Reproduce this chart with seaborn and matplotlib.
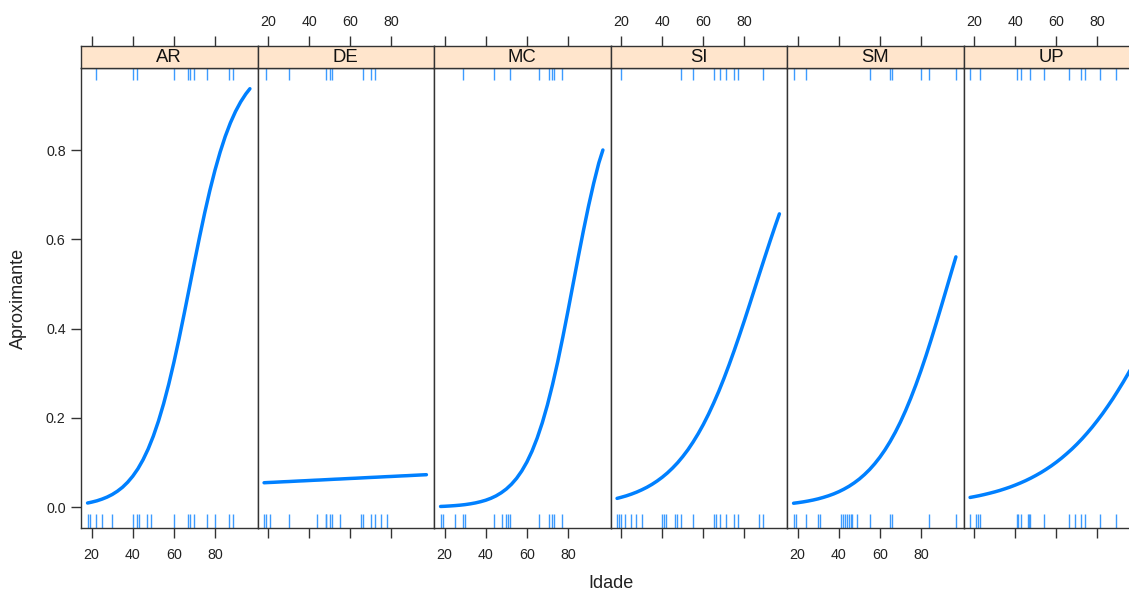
import numpy as np
import pandas as pd
import matplotlib
matplotlib.use("Agg")
import matplotlib.pyplot as plt
import seaborn as sns

# ---------------- data ----------------
panels = ["AR", "DE", "MC", "SI", "SM", "UP"]
idade = [18, 20, 22.5, 25, 27.5, 30, 32.5, 35, 37.5, 40, 42.5, 45, 47.5, 50, 52.5,
         55, 57.5, 60, 62.5, 65, 67.5, 70, 72.5, 75, 77.5, 80, 82.5, 85, 87.5, 90,
         92.5, 95, 97]

prob_AR = [0.0096, 0.0116, 0.0145, 0.0183, 0.0229, 0.0287, 0.0360, 0.0449, 0.0561,
           0.0697, 0.0863, 0.1065, 0.1307, 0.1594, 0.1930, 0.2318, 0.2756, 0.3243,
           0.3771, 0.4331, 0.4907, 0.5486, 0.6052, 0.6593, 0.7093, 0.7547, 0.7951,
           0.8304, 0.8607, 0.8863, 0.9077, 0.9254, 0.9372]
prob_DE = [0.0550, 0.0555, 0.0560, 0.0566, 0.0572, 0.0577, 0.0583, 0.0589, 0.0594,
           0.0600, 0.0606, 0.0611, 0.0617, 0.0623, 0.0629, 0.0634, 0.0640, 0.0646,
           0.0651, 0.0657, 0.0663, 0.0669, 0.0674, 0.0680, 0.0686, 0.0691, 0.0697,
           0.0703, 0.0708, 0.0714, 0.0720, 0.0726, 0.0730]
prob_MC = [0.0019, 0.0023, 0.0030, 0.0038, 0.0048, 0.0061, 0.0078, 0.0099, 0.0126,
           0.0159, 0.0202, 0.0256, 0.0325, 0.0410, 0.0517, 0.0649, 0.0813, 0.1013,
           0.1256, 0.1548, 0.1892, 0.2292, 0.2749, 0.3256, 0.3811, 0.4396, 0.5000,
           0.5603, 0.6189, 0.6743, 0.7251, 0.7708, 0.8000]
prob_SI = [0.0200, 0.0224, 0.0257, 0.0296, 0.0340, 0.0391, 0.0448, 0.0514, 0.0589,
           0.0674, 0.0770, 0.0879, 0.1000, 0.1138, 0.1290, 0.1462, 0.1650, 0.1857,
           0.2085, 0.2333, 0.2598, 0.2884, 0.3189, 0.3509, 0.3843, 0.4187, 0.4541,
           0.4900, 0.5259, 0.5614, 0.5965, 0.6306, 0.6570]
prob_SM = [0.0091, 0.0103, 0.0120, 0.0140, 0.0163, 0.0190, 0.0222, 0.0258, 0.0300,
           0.0349, 0.0406, 0.0471, 0.0547, 0.0633, 0.0733, 0.0846, 0.0976, 0.1122,
           0.1287, 0.1473, 0.1680, 0.1909, 0.2163, 0.2440, 0.2739, 0.3060, 0.3401,
           0.3761, 0.4134, 0.4517, 0.4906, 0.5297, 0.5607]
prob_UP = [0.0221, 0.0238, 0.0261, 0.0287, 0.0315, 0.0345, 0.0378, 0.0415, 0.0454,
           0.0498, 0.0545, 0.0596, 0.0652, 0.0713, 0.0778, 0.0850, 0.0927, 0.1011,
           0.1101, 0.1199, 0.1302, 0.1414, 0.1534, 0.1663, 0.1799, 0.1945, 0.2098,
           0.2262, 0.2432, 0.2614, 0.2801, 0.2998, 0.3160]

rug_top_AR = [22, 40, 42, 60, 67, 68, 70, 76, 87, 89]
rug_top_DE = [19, 30, 48, 50, 51, 66, 70, 72]
rug_top_MC = [29, 44, 52, 66, 71, 72, 73, 77]
rug_top_SI = [20, 49, 55, 65, 68, 71, 75, 77, 89]
rug_top_SM = [18, 24, 55, 65, 66, 80, 84, 97]
rug_top_UP = [18, 23, 41, 43, 47, 54, 66, 72, 74, 81, 89]

rug_bot_AR = [18, 19, 22, 25, 30, 40, 42, 43, 47, 49, 60, 67, 68, 70, 76, 80, 87, 89]
rug_bot_DE = [18, 19, 21, 30, 44, 48, 48.3, 50, 51, 55, 65, 66, 70, 72, 75, 78]
rug_bot_MC = [18, 19, 25, 29, 30, 44, 48, 50, 51, 52, 66, 71, 72, 73, 77]
rug_bot_SI = [18, 19, 20, 22, 25, 27, 30, 40, 41, 42, 46, 47, 49, 55, 65, 66, 68,
              71, 75, 77, 87, 89]
rug_bot_SM = [18, 19, 24, 30, 31, 41, 42, 43, 44, 45, 46, 46.5, 49, 55, 65, 66, 84, 97]
rug_bot_UP = [18, 21, 22, 23, 41, 41.5, 43, 46, 46.5, 47, 54, 66, 69, 72, 74, 81, 89]

x_ticks = [20, 40, 60, 80]
y_ticks = [0.0, 0.2, 0.4, 0.6, 0.8]
y_ticklabels = ["0.0", "0.2", "0.4", "0.6", "0.8"]
x_label = "Idade"
y_label = "Aproximante"

probs = {"AR": prob_AR, "DE": prob_DE, "MC": prob_MC,
         "SI": prob_SI, "SM": prob_SM, "UP": prob_UP}
rug_top = {"AR": rug_top_AR, "DE": rug_top_DE, "MC": rug_top_MC,
           "SI": rug_top_SI, "SM": rug_top_SM, "UP": rug_top_UP}
rug_bot = {"AR": rug_bot_AR, "DE": rug_bot_DE, "MC": rug_bot_MC,
           "SI": rug_bot_SI, "SM": rug_bot_SM, "UP": rug_bot_UP}

df = pd.concat([pd.DataFrame({"Idade": idade, "prob": probs[p], "panel": p})
                for p in panels], ignore_index=True)

# ---------------- styling ----------------
sns.set_theme(style="white")
plt.rcParams["font.family"] = ["Liberation Sans", "DejaVu Sans"]

W, H = 1129, 592
fig = plt.figure(figsize=(W / 100, H / 100), dpi=100)

line_col = "#0080FF"
rug_col = "#3D9BFF"
strip_col = "#FFE5CC"
frame_col = "#333333"
text_col = "#222222"

x0 = 81.0
pw = 176.5
panel_top, panel_bot = 68.0, 528.3
strip_top = 45.5
xlim = (14.8, 100.7)
ylim = (-0.047, 0.9836)
tick_fs = 10.3

for i, p in enumerate(panels):
    left = (x0 + i * pw) / W
    ax = fig.add_axes([left, 1 - panel_bot / H, pw / W, (panel_bot - panel_top) / H])
    sax = fig.add_axes([left, 1 - panel_top / H, pw / W, (panel_top - strip_top) / H],
                       sharex=ax)

    sub = df[df["panel"] == p]
    sns.lineplot(data=sub, x="Idade", y="prob", ax=ax, color=line_col,
                 linewidth=2.5, legend=False, solid_capstyle="round",
                 solid_joinstyle="round")
    sns.rugplot(x=rug_bot[p], ax=ax, height=0.031, color=rug_col, linewidth=1.0)
    ax.vlines(rug_top[p], 1 - 0.027, 1.0, transform=ax.get_xaxis_transform(),
              color=rug_col, linewidth=1.0)

    ax.set_xlim(*xlim)
    ax.set_ylim(*ylim)
    ax.set_xlabel("")
    ax.set_ylabel("")
    for s in ax.spines.values():
        s.set_color(frame_col)
        s.set_linewidth(1.0)

    ax.set_xticks(x_ticks)
    ax.tick_params(axis="x", which="both", direction="out", length=7, width=1,
                   color=frame_col, bottom=True, top=False, labelsize=tick_fs,
                   pad=7, labelcolor=text_col, labelbottom=(i % 2 == 0))
    if i == 0:
        ax.set_yticks(y_ticks)
        ax.set_yticklabels(y_ticklabels)
        ax.tick_params(axis="y", direction="out", length=7, width=1, color=frame_col,
                       left=True, labelsize=tick_fs, pad=4, labelcolor=text_col)
    else:
        ax.set_yticks([])

    # strip
    sax.set_facecolor(strip_col)
    sax.set_ylim(0, 1)
    sax.set_yticks([])
    for s in sax.spines.values():
        s.set_color(frame_col)
        s.set_linewidth(1.0)
    sax.text(0.5, 0.45, p, transform=sax.transAxes, ha="center", va="center",
             fontsize=13.3, color="#111111")
    sax.tick_params(axis="x", which="both", direction="out", length=7, width=1,
                    color=frame_col, bottom=False, top=True, labelbottom=False,
                    labeltop=(i % 2 == 1), labelsize=tick_fs, pad=5,
                    labelcolor=text_col)

fig.text((x0 + 3 * pw) / W, 1 - 584 / H, x_label, ha="center", va="center",
         fontsize=13, color=text_col)
fig.text(18 / W, 1 - 298 / H, y_label, ha="center", va="center", rotation=90,
         fontsize=13, color=text_col)

fig.savefig("out.png", dpi=100, facecolor="white")
